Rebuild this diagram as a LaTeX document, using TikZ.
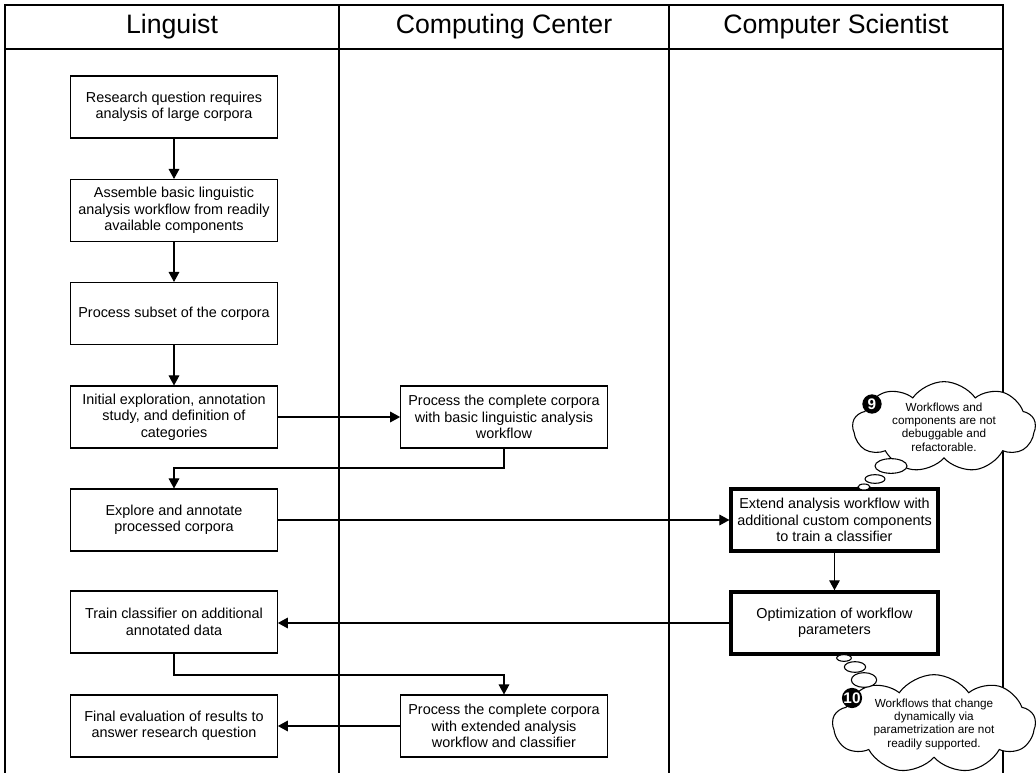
\documentclass[tikz,border=0pt]{standalone}
\usepackage{fontspec}
\setmainfont{Liberation Sans}
\usetikzlibrary{shapes.symbols,shapes.geometric,arrows.meta}
\begin{document}
\begin{tikzpicture}[x=0.75pt,y=-0.75pt,
  lane/.style={line width=0.8pt},
  lanehead/.style={font=\fontsize{20}{20}\selectfont},
  stepbox/.style={draw, line width=0.8pt, minimum width=155pt, minimum height=46.5pt,
    inner sep=0pt, align=center, font=\fontsize{10.8}{12.4}\selectfont},
  keybox/.style={stepbox, line width=2.6pt},
  flow/.style={line width=0.8pt, -{Triangle[length=7.5pt,width=8pt]}},
  thought/.style={cloud, draw, fill=white, line width=0.8pt, cloud puffs=9,
    cloud puff arc=110, cloud ignores aspect, align=center, inner sep=0pt,
    font=\fontsize{8.8}{10}\selectfont},
  bubble/.style={ellipse, draw, fill=white, line width=0.8pt, inner sep=0pt},
  badge/.style={circle, fill=black, text=white, inner sep=0pt, minimum size=14.5pt,
    font=\bfseries\fontsize{11.5}{11.5}\selectfont}
]
\useasboundingbox (0,0) rectangle (1036,773);

% swimlane frame and header
\draw[lane] (5,773) -- (5,5) -- (1003,5) -- (1003,773);
\draw[lane] (5,49) -- (1003,49);
\draw[lane] (339,5) -- (339,773);
\draw[lane] (669,5) -- (669,773);
\node[lanehead] (hL) at (172,27) {Linguist};
\node[lanehead] (hC) at (504,27) {Computing Center};
\node[lanehead] (hS) at (836,27) {Computer Scientist};

% Linguist lane
\node[stepbox] (b1) at (174,107) {Research question requires\\analysis of large corpora};
\node[stepbox] (b2) at (174,210.5) {Assemble basic linguistic\\analysis workflow from readily\\available components};
\node[stepbox] (b3) at (174,313.5) {Process subset of the corpora};
\node[stepbox] (b4) at (174,417) {Initial exploration, annotation\\study, and definition of\\categories};
\node[stepbox] (b6) at (174,520) {Explore and annotate\\processed corpora};
\node[stepbox] (b9) at (174,622) {Train classifier on additional\\annotated data};
\node[stepbox] (b11) at (174,726) {Final evaluation of results to\\answer research question};

% Computing Center lane
\node[stepbox] (b5) at (504,417) {Process the complete corpora\\with basic linguistic analysis\\workflow};
\node[stepbox] (b10) at (504,726) {Process the complete corpora\\with extended analysis\\workflow and classifier};

% Computer Scientist lane
\node[keybox] (b7) at (834.5,520) {Extend analysis workflow with\\additional custom components\\to train a classifier};
\node[keybox] (b8) at (834.5,623) {Optimization of workflow\\parameters};

% junction points of the routed connectors
\coordinate (j1) at (504,468);
\coordinate (j2) at (174,675);

% connectors
\draw[flow] (b1) -- (b2);
\draw[flow] (b2) -- (b3);
\draw[flow] (b3) -- (b4);
\draw[flow] (b4) -- (b5);
\draw[flow] (b5.south) -- (j1) -| (b6.north);
\draw[flow] (b6) -- (b7);
\draw[flow] (b7) -- (b8);
\draw[flow] (b8.west) -- (b8.west -| b9.east);
\draw[flow] (b9.south) -- (j2) -| (b10.north);
\draw[flow] (b10) -- (b11);

% thought callouts
\node[thought, minimum width=137pt, minimum height=58pt] (c9) at (944,427)
  {Workflows and\\components are not\\debuggable and\\refactorable.};
\node[bubble, minimum width=24pt, minimum height=11pt] (t9a) at (891,466) {};
\node[bubble, minimum width=15pt, minimum height=6.5pt] (t9b) at (875,479) {};
\node[bubble, minimum width=9pt, minimum height=4.5pt] (t9c) at (864,487) {};
\node[badge] (n9) at (872,404) {9};

\node[thought, minimum width=152pt, minimum height=74pt] (c10) at (934,724)
  {Workflows that change\\dynamically via\\parametrization are not\\readily supported.};
\node[bubble, minimum width=11pt, minimum height=5pt] (t10a) at (844,658) {};
\node[bubble, minimum width=16pt, minimum height=8pt] (t10b) at (855,667) {};
\node[bubble, minimum width=19pt, minimum height=11pt] (t10c) at (864,680) {};
\node[badge] (n10) at (852,698) {10};
\end{tikzpicture}
\end{document}
